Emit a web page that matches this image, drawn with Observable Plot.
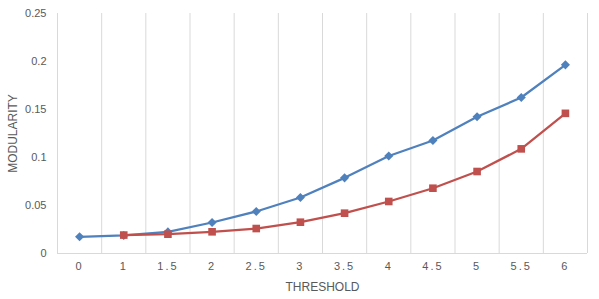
<!DOCTYPE html>
<html><head><meta charset="utf-8">
<script src="https://cdn.jsdelivr.net/npm/d3@7"></script>
<script src="https://cdn.jsdelivr.net/npm/@observablehq/plot@0.6"></script>
<style>
body{margin:0;background:#fff;}
g[aria-label="x-axis tick label"] text{letter-spacing:2px;}
</style>
</head><body><div id="chart"></div>
<script>
const thresholds = ["0","1","1.5","2","2.5","3","3.5","4","4.5","5","5.5","6"];
const blueValues = [0.0174, 0.0188, 0.0225, 0.0323, 0.0438, 0.0583, 0.0788, 0.1015, 0.1177, 0.1424, 0.1625, 0.1965];
const redValues  = [null, 0.0192, 0.0201, 0.0226, 0.0260, 0.0326, 0.0420, 0.0542, 0.0680, 0.0854, 0.1090, 0.1460];
const yTicks = [0, 0.05, 0.1, 0.15, 0.2, 0.25];
const xTitle = "THRESHOLD";
const yTitle = "MODULARITY";

const blue = thresholds.map((t, i) => ({i, t, v: blueValues[i]}));
const red = thresholds.map((t, i) => ({i, t, v: redValues[i]})).filter(d => d.v != null);
const boundaries = d3.range(thresholds.length + 1).map(i => i - 0.5);

const chart = Plot.plot({
  width: 599, height: 299,
  marginLeft: 57, marginRight: 12, marginTop: 13, marginBottom: 46,
  style: {fontFamily: "'Liberation Sans', Arial, sans-serif", fontSize: "11px", color: "#595959", background: "#fff"},
  x: {domain: [-0.5, thresholds.length - 0.5]},
  y: {domain: [0, 0.25]},
  marks: [
    Plot.ruleX(boundaries, {stroke: "#d9d9d9", strokeOpacity: 1}),
    Plot.ruleY([0], {stroke: "#d9d9d9", strokeOpacity: 1}),
    Plot.axisX(d3.range(thresholds.length), {tickSize: 0, tickPadding: 9, tickFormat: i => thresholds[i], label: null}),
    Plot.axisY(yTicks, {tickSize: 0, tickPadding: 11, tickFormat: d => String(d), label: null}),
    Plot.text([xTitle], {frameAnchor: "bottom", dy: 34, textAnchor: "middle", lineAnchor: "middle", fontSize: 12, fill: "#595959"}),
    Plot.text([yTitle], {frameAnchor: "left", dx: -44, rotate: -90, textAnchor: "middle", lineAnchor: "middle", fontSize: 12, fill: "#595959"}),
    Plot.line(blue, {x: "i", y: "v", stroke: "#4F81BD", strokeWidth: 2.25}),
    Plot.line(red, {x: "i", y: "v", stroke: "#C0504D", strokeWidth: 2.25}),
    Plot.dot(blue, {x: "i", y: "v", symbol: "diamond2", r: 4.1, fill: "#4F81BD", stroke: "none"}),
    Plot.dot(red, {x: "i", y: "v", symbol: "square", r: 4.3, fill: "#C0504D", stroke: "none"})
  ]
});
document.getElementById("chart").append(chart);
</script>
</body></html>
